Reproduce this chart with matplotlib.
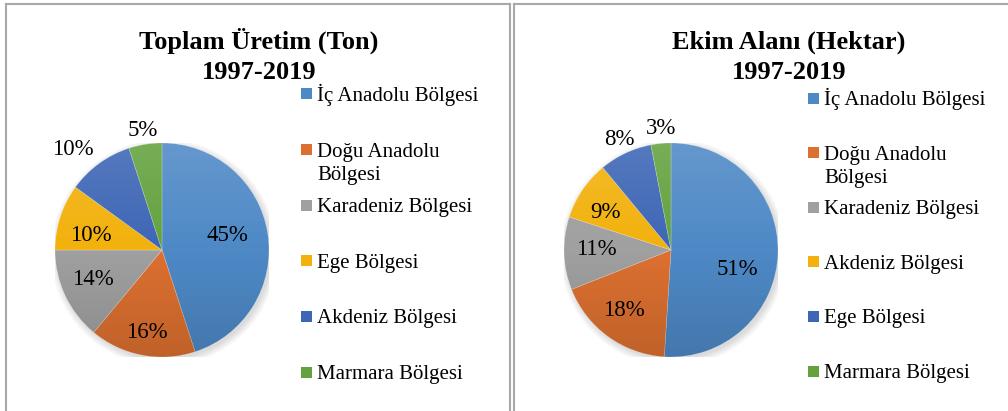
import numpy as np
import matplotlib
matplotlib.use("Agg")
import matplotlib.pyplot as plt
from matplotlib.patches import Rectangle, Circle
from matplotlib.lines import Line2D

plt.rcParams['font.family'] = ['Liberation Serif', 'DejaVu Serif']

# ---------------- data ----------------
titles1 = ["Toplam Üretim (Ton)", "1997-2019"]
labels1 = ["İç Anadolu Bölgesi", "Doğu Anadolu\nBölgesi", "Karadeniz Bölgesi",
           "Ege Bölgesi", "Akdeniz Bölgesi", "Marmara Bölgesi"]
values1 = [45, 16, 14, 10, 10, 5]

titles2 = ["Ekim Alanı (Hektar)", "1997-2019"]
labels2 = ["İç Anadolu Bölgesi", "Doğu Anadolu\nBölgesi", "Karadeniz Bölgesi",
           "Akdeniz Bölgesi", "Ege Bölgesi", "Marmara Bölgesi"]
values2 = [51, 18, 11, 9, 8, 3]

colors = ["#4E89C6", "#DC7030", "#A0A0A0", "#F2B10C", "#3D66B5", "#63A23E"]

# ---------------- layout (pixels) ----------------
W, H = 1008, 411
fig = plt.figure(figsize=(W / 100, H / 100), dpi=100)

def fx(x):
    return x / W

def fy(y):
    return 1 - y / H

# panel borders
border = "#A8A8A8"
for (x0, x1) in [(5.5, 510), (513.5, 1012)]:
    fig.add_artist(Line2D([fx(x0), fx(x0)], [fy(4.5), fy(420)], color=border, lw=1.5))
    fig.add_artist(Line2D([fx(x0), fx(x1)], [fy(4.5), fy(4.5)], color=border, lw=1.5))
fig.add_artist(Line2D([fx(510), fx(510)], [fy(4.5), fy(420)], color=border, lw=1.5))


def draw_panel(cx, cy, r, values, labels, titles, title_x, dists, shifts,
               leg_x, leg_y0, leg_step):
    ax = fig.add_axes([fx(cx - r), fy(cy + r), 2 * r / W, 2 * r / H])
    # soft shadow
    for k in range(6):
        ax.add_patch(Circle((0.02, -0.025), 1.0 + 0.012 * k, color="black",
                            alpha=0.025, lw=0, zorder=0))
    wedges, _ = ax.pie(values, colors=colors, startangle=90, counterclock=False,
                       radius=1, wedgeprops=dict(linewidth=0.4, edgecolor=(1, 1, 1, 0.35)))
    for w in wedges:
        w.set_zorder(1)
    # vertical gradient overlay
    g = np.linspace(1, -1, 200)[:, None]
    rgba = np.zeros((200, 1, 4))
    rgba[..., :3] = np.where(g > 0, 1.0, 0.0)[..., None]
    rgba[..., 3] = np.abs(g) * 0.13
    im = ax.imshow(rgba, extent=(-1, 1, -1, 1), aspect='auto', zorder=2,
                   interpolation='bilinear')
    clip = Circle((0, 0), 1.0, transform=ax.transData)
    im.set_clip_path(clip)

    total = float(sum(values))
    for w, v, d, s in zip(wedges, values, dists, shifts):
        mid = np.deg2rad((w.theta1 + w.theta2) / 2 + s)
        x, y = d * np.cos(mid), d * np.sin(mid)
        ax.text(x, y - 8.0 / r, f"{v / total * 100:.0f}%", ha='center', va='baseline',
                fontsize=16.5, color="black", zorder=5)
    ax.set_xlim(-1, 1)
    ax.set_ylim(-1, 1)
    ax.axis('off')

    # title
    fig.text(fx(title_x), fy(49), titles[0], ha='center', va='baseline',
             fontsize=19, fontweight='bold')
    fig.text(fx(title_x), fy(79), titles[1], ha='center', va='baseline',
             fontsize=19, fontweight='bold')

    # legend
    for i, (lab, c) in enumerate(zip(labels, colors)):
        yc = leg_y0 + i * leg_step
        fig.add_artist(Rectangle((fx(leg_x), fy(yc + 5.5)), 11 / W, 11 / H,
                                 facecolor=c, edgecolor='none'))
        for j, line in enumerate(lab.split("\n")):
            fig.text(fx(leg_x + 16), fy(yc + 7 + j * 23), line, ha='left',
                     va='baseline', fontsize=15)


draw_panel(162, 250, 107, values1, labels1, titles1, 259,
           [0.63, 0.76, 0.69, 0.68, 1.27, 1.15],
           [5.6, 0.2, -3.8, 4.5, 4.8, -0.1],
           301, 94, 55.6)
draw_panel(671, 250, 107, values2, labels2, titles2, 789,
           [0.64, 0.70, 0.70, 0.72, 1.16, 1.16],
           [-13, -3, -3.8, 3, -0.5, -0.8],
           808, 98, 54.6)

fig.savefig("out.png", dpi=100)
